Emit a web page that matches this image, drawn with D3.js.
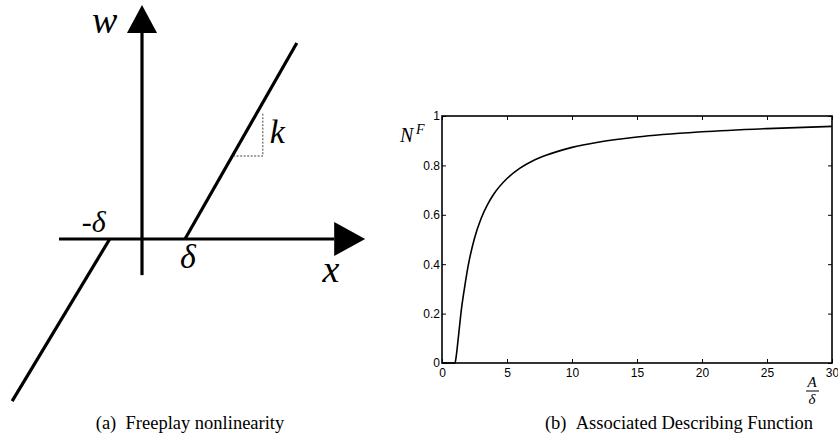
<!DOCTYPE html>
<html>
<head>
<meta charset="utf-8">
<script src="https://cdn.jsdelivr.net/npm/d3@7"></script>
<style>
  body { margin: 0; background: #fff; }
  .tick text { font-family: "Liberation Sans", Arial, sans-serif; font-size: 12px; fill: #000; }
  .tick line { stroke: #000; stroke-width: 1; }
  .math { font-family: "Liberation Serif", "Times New Roman", serif; font-style: italic; fill: #000; }
  .caption { font-family: "Liberation Serif", "Times New Roman", serif; font-size: 18.5px; fill: #000; }
</style>
</head>
<body>
<div id="chart"></div>
<script>
// ---- panel (a) freeplay sketch, units of delta ----
var rightBranch = [[1, 0], [3.6, 4.56]];
var leftBranch = [[-0.75, 0], [-3.02, -3.77]];
var xAxisLine = [[-1.93, 0], [4.47, 0]];
var wAxisLine = [[0, -0.84], [0, 4.79]];
var xArrow = [[4.47, 0.395], [5.19, 0], [4.47, -0.395]];
var wArrow = [[-0.35, 4.79], [0, 5.44], [0.35, 4.79]];
var slopeMark = [[2.12, 1.93], [2.81, 1.93], [2.81, 2.93]];

// ---- panel (b) describing function ----
var ratio = [0, 1, 1.1, 1.25, 1.5, 1.75, 2, 2.5, 3, 3.5, 4, 5, 6, 7, 8, 10, 12, 15, 20, 25, 30];
var nf = [0, 0, 0.03, 0.10, 0.22, 0.31, 0.39, 0.505, 0.584, 0.641, 0.685, 0.747, 0.789, 0.819, 0.841, 0.873, 0.894, 0.915, 0.936, 0.949, 0.958];
var xTicks = [0, 5, 10, 15, 20, 25, 30];
var yTicks = [0, 0.2, 0.4, 0.6, 0.8, 1];
var yTickLabels = ["0", "0.2", "0.4", "0.6", "0.8", "1"];

var W = 838, H = 437;

var svg = d3.select("#chart")
  .append("svg")
    .attr("width", W)
    .attr("height", H);

//Panel (a)
var xa = d3.scaleLinear().domain([0, 1]).range([142, 185]);
var ya = d3.scaleLinear().domain([0, 1]).range([239, 196]);
var lineA = d3.line()
  .x(function(d) { return xa(d[0]); })
  .y(function(d) { return ya(d[1]); });

var pa = svg.append("g");

[xAxisLine, wAxisLine, rightBranch, leftBranch].forEach(function(seg) {
  pa.append("path")
    .attr("d", lineA(seg))
    .attr("fill", "none")
    .attr("stroke", "#000")
    .attr("stroke-width", 3.2);
});

[xArrow, wArrow].forEach(function(tri) {
  pa.append("path")
    .attr("d", lineA(tri) + "Z")
    .attr("fill", "#000");
});

pa.append("path")
  .attr("d", lineA(slopeMark))
  .attr("fill", "none")
  .attr("stroke", "#444")
  .attr("stroke-width", 1)
  .attr("stroke-dasharray", "2,1.5");

// labels of the sketch
pa.append("text").attr("class", "math")
  .attr("x", xa(0) - 50).attr("y", ya(4.8))
  .attr("font-size", "38px").text("w");
pa.append("text").attr("class", "math")
  .attr("x", xa(4.2)).attr("y", ya(-1.0))
  .attr("font-size", "38px").text("x");
pa.append("text").attr("class", "math")
  .attr("x", xa(1) + 3).attr("y", ya(-0.67))
  .attr("text-anchor", "middle")
  .attr("font-size", "34px").text("δ");
pa.append("text").attr("class", "math")
  .attr("x", xa(-0.75) - 4).attr("y", ya(0.16))
  .attr("text-anchor", "end")
  .attr("font-size", "30px")
  .html("<tspan style='font-style:normal'>-</tspan>δ");
pa.append("text").attr("class", "math")
  .attr("x", xa(2.81) + 7).attr("y", ya(2.23))
  .attr("font-size", "34px").text("k");

//Panel (b)
var x = d3.scaleLinear().domain([0, 30]).range([442, 832]);
var y = d3.scaleLinear().domain([0, 1]).range([363, 116]);

var pb = svg.append("g");

pb.append("g")
  .attr("transform", "translate(0," + y(0) + ")")
  .call(d3.axisBottom(x).tickValues(xTicks).tickSize(-4).tickPadding(5).tickFormat(d3.format("d")))
  .call(function(g) { g.select(".domain").remove(); });
pb.append("g")
  .attr("transform", "translate(0," + y(1) + ")")
  .call(d3.axisTop(x).tickValues(xTicks).tickSize(-4).tickFormat(""))
  .call(function(g) { g.select(".domain").remove(); });
pb.append("g")
  .attr("transform", "translate(" + x(0) + ",0)")
  .call(d3.axisLeft(y).tickValues(yTicks).tickSize(-4).tickPadding(2)
    .tickFormat(function(d, i) { return yTickLabels[i]; }))
  .call(function(g) { g.select(".domain").remove(); });
pb.append("g")
  .attr("transform", "translate(" + x(30) + ",0)")
  .call(d3.axisRight(y).tickValues(yTicks).tickSize(-4).tickFormat(""))
  .call(function(g) { g.select(".domain").remove(); });

pb.append("rect")
  .attr("x", x(0)).attr("y", y(1))
  .attr("width", x(30) - x(0)).attr("height", y(0) - y(1))
  .attr("fill", "none")
  .attr("stroke", "#000")
  .attr("stroke-width", 1.6);

pb.append("path")
  .datum(ratio)
  .attr("fill", "none")
  .attr("stroke", "#000")
  .attr("stroke-width", 1.6)
  .attr("d", d3.line()
    .x(function(d) { return x(d); })
    .y(function(d, i) { return y(nf[i]); })
    .curve(d3.curveMonotoneX));

// N^F label
pb.append("text").attr("class", "math")
  .attr("x", 400).attr("y", 142)
  .attr("font-size", "20px").text("N");
pb.append("text").attr("class", "math")
  .attr("x", 416).attr("y", 134)
  .attr("font-size", "14px").text("F");

// A over delta label
pb.append("text").attr("class", "math")
  .attr("x", 812).attr("y", 387)
  .attr("text-anchor", "middle")
  .attr("font-size", "15px").text("A");
pb.append("line")
  .attr("x1", 806).attr("x2", 819)
  .attr("y1", 391).attr("y2", 391)
  .attr("stroke", "#000").attr("stroke-width", 1);
pb.append("text").attr("class", "math")
  .attr("x", 812).attr("y", 404)
  .attr("text-anchor", "middle")
  .attr("font-size", "15px").text("δ");

//Captions
svg.append("text").attr("class", "caption")
  .attr("x", 190).attr("y", 429)
  .attr("text-anchor", "middle")
  .text("(a)\u2002Freeplay nonlinearity");
svg.append("text").attr("class", "caption")
  .attr("x", 679).attr("y", 429)
  .attr("text-anchor", "middle")
  .text("(b)\u2002Associated Describing Function");
</script>
</body>
</html>
